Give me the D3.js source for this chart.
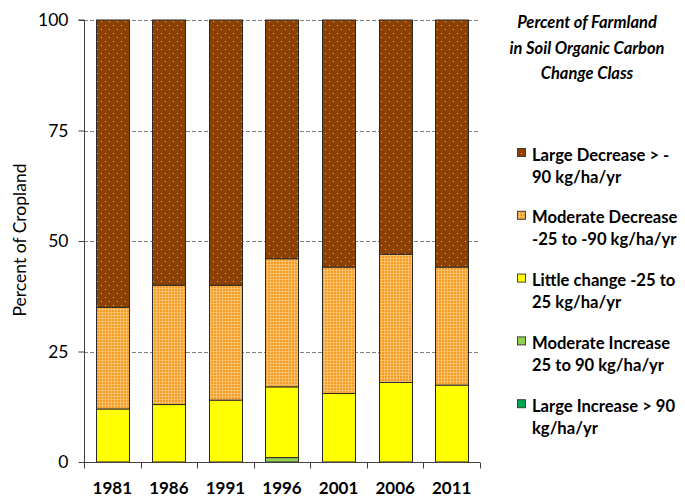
<!DOCTYPE html>
<html><head><meta charset="utf-8">
<script src="https://cdn.jsdelivr.net/npm/d3@7"></script>
<style>body{margin:0;background:#fff}svg{display:block}</style>
</head><body><svg id="c" width="685" height="498"></svg>
<script>
const years = ["1981","1986","1991","1996","2001","2006","2011"];
const largeIncrease    = [0, 0, 0, 0, 0, 0, 0];
const moderateIncrease = [0, 0, 0, 1, 0, 0, 0];
const littleChange     = [12, 13, 14, 16, 15.5, 18, 17.4];
const moderateDecrease = [23, 27, 26, 29, 28.6, 29, 26.7];
const largeDecrease    = [65, 60, 60, 54, 55.9, 53, 55.9];
const yTicks = [0, 25, 50, 75, 100];
const seriesNames = ["Large Increase > 90 kg/ha/yr","Moderate Increase 25 to 90 kg/ha/yr","Little change -25 to 25 kg/ha/yr","Moderate Decrease -25 to -90 kg/ha/yr","Large Decrease > -90 kg/ha/yr"];
const legendLines = [
  ["Large Decrease > -","90 kg/ha/yr"],
  ["Moderate Decrease","-25 to -90 kg/ha/yr"],
  ["Little change -25 to","25 kg/ha/yr"],
  ["Moderate Increase","25 to 90 kg/ha/yr"],
  ["Large Increase > 90","kg/ha/yr"]
];
const titleLines = ["Percent of Farmland","in Soil Organic Carbon","Change Class"];

const keys = ["li","mi","lc","md","ld"];
const data = years.map((y,i)=>({year:y, li:largeIncrease[i], mi:moderateIncrease[i], lc:littleChange[i], md:moderateDecrease[i], ld:largeDecrease[i]}));
const fills = {li:"#00a550", mi:"#92d050", lc:"#ffff00", md:"url(#pOrange)", ld:"url(#pBrown)"};
const FONT = "Lato, 'Open Sans', sans-serif";

const svg = d3.select("#c");
const defs = svg.append("defs");
const pb = defs.append("pattern").attr("id","pBrown").attr("patternUnits","userSpaceOnUse").attr("width",8).attr("height",8);
pb.append("rect").attr("width",8).attr("height",8).attr("fill","#8c4100");
pb.append("rect").attr("x",1).attr("y",1).attr("width",1).attr("height",1).attr("fill","#e2b488");
pb.append("rect").attr("x",5).attr("y",5).attr("width",1).attr("height",1).attr("fill","#e2b488");
const po = defs.append("pattern").attr("id","pOrange").attr("patternUnits","userSpaceOnUse").attr("width",3).attr("height",3);
po.append("rect").attr("width",3).attr("height",3).attr("fill","#f59a22");
po.append("rect").attr("x",0).attr("y",0).attr("width",1).attr("height",3).attr("fill","#fbc06a");
po.append("rect").attr("x",0).attr("y",0).attr("width",3).attr("height",1).attr("fill","#fbc06a");

const L=84, R=480, T=20, B=462;
const x = d3.scaleBand().domain(years).range([L,R]).paddingInner(0.415).paddingOuter(0.2075);
const y = d3.scaleLinear().domain([0,100]).range([B,T]);

// gridlines
svg.append("g").selectAll("line").data(yTicks.filter(d=>d>0)).join("line")
  .attr("x1",L).attr("x2",R).attr("y1",d=>Math.round(y(d))+0.5).attr("y2",d=>Math.round(y(d))+0.5)
  .attr("stroke","#808080").attr("stroke-width",1).attr("stroke-dasharray","4,2");

const stack = d3.stack().keys(keys)(data);
const g = svg.append("g");
stack.forEach(s=>{
  g.selectAll(null).data(s.filter(d=>d[1]-d[0]>0)).join("rect")
    .attr("x",d=>Math.round(x(d.data.year))+0.5)
    .attr("width",Math.round(x.bandwidth()))
    .attr("y",d=>y(d[1]))
    .attr("height",d=>y(d[0])-y(d[1]))
    .attr("fill",fills[s.key]).attr("stroke","#2a2a2a").attr("stroke-width",1);
});

// y axis
const ya = svg.append("g").attr("transform",`translate(${L+0.5},0)`)
  .call(d3.axisLeft(y).tickValues(yTicks).tickSize(6).tickPadding(10));
ya.select(".domain").attr("stroke","#404040").attr("d",`M-6,${T}H0V${B+0.5}`);
ya.selectAll(".tick line").attr("stroke","#404040");
ya.selectAll("text").attr("font-family",FONT).attr("font-size",17.5).attr("fill","#000");

// x axis
const xa = svg.append("g").attr("transform",`translate(0,${B+0.5})`);
xa.append("line").attr("x1",L).attr("x2",R).attr("stroke","#404040");
const step = x.step();
const bounds = d3.range(years.length+1).map(i=>L + i*step);
xa.selectAll(".tk").data(bounds).join("line").attr("class","tk")
  .attr("x1",d=>Math.round(d)+0.5).attr("x2",d=>Math.round(d)+0.5).attr("y1",0).attr("y2",6).attr("stroke","#404040");
xa.selectAll("text").data(years).join("text")
  .attr("x",d=>x(d)+x.bandwidth()/2).attr("y",31).attr("text-anchor","middle")
  .attr("font-family",FONT).attr("font-weight","bold").attr("font-size",17).attr("fill","#000")
  .text(d=>d);

// y label
svg.append("text").attr("transform","translate(26,240) rotate(-90)").attr("text-anchor","middle")
  .attr("font-family",FONT).attr("font-size",17.5).attr("fill","#000").text("Percent of Cropland");

// title
svg.append("g").selectAll("text").data(titleLines).join("text")
  .attr("x",587).attr("y",(d,i)=>28+i*25.5).attr("text-anchor","middle")
  .attr("font-family",FONT).attr("font-weight","bold").attr("font-style","italic")
  .attr("font-size",16.5).attr("fill","#000").text(d=>d);

// legend
const legFill = [fills.ld, fills.md, fills.lc, fills.mi, fills.li];
const lg = svg.append("g");
legendLines.forEach((ln,i)=>{
  const y0 = 155 + i*62.8;
  lg.append("rect").attr("x",517.5).attr("y",y0-6.5).attr("width",8).attr("height",8)
    .attr("fill",legFill[i]).attr("stroke","#404040").attr("stroke-width",1);
  ln.forEach((t,j)=>{
    lg.append("text").attr("x",532).attr("y",y0+5.5+j*22).attr("font-family",FONT)
      .attr("font-weight","bold").attr("font-size",16.6).attr("fill","#000").text(t);
  });
});
</script></body></html>
